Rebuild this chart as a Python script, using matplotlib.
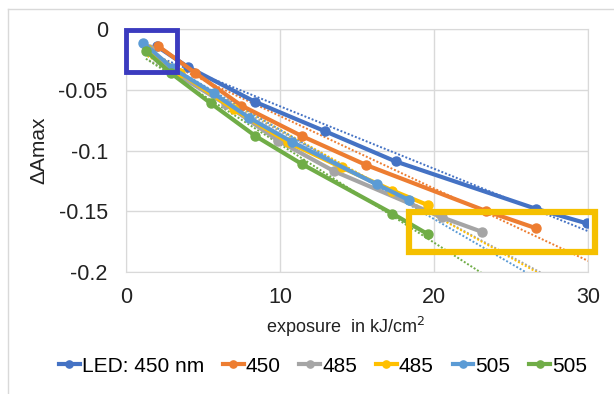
import numpy as np
import matplotlib.pyplot as plt
from matplotlib.patches import Rectangle
from matplotlib.lines import Line2D

plt.rcParams['font.family'] = ['Liberation Sans', 'DejaVu Sans']

# exposure (kJ/cm2) and dAmax for each LED series
labels = ["LED: 450 nm", "450", "485", "485", "505", "505"]
colors = ["#4472C4", "#ED7D31", "#A5A5A5", "#FFC000", "#5B9BD5", "#70AD47"]

x_blue = [2.0, 4.0, 8.4, 12.9, 17.5, 26.6, 29.9]
y_blue = [-0.014, -0.031, -0.060, -0.084, -0.109, -0.148, -0.160]

x_orange = [2.1, 4.5, 7.5, 11.4, 15.6, 23.4, 26.6]
y_orange = [-0.014, -0.036, -0.063, -0.088, -0.112, -0.150, -0.164]

x_gray = [1.5, 3.0, 6.5, 9.9, 13.5, 20.5, 23.1]
y_gray = [-0.016, -0.035, -0.062, -0.092, -0.117, -0.155, -0.167]

x_yellow = [1.4, 3.5, 7.0, 10.5, 14.0, 17.3, 19.6]
y_yellow = [-0.016, -0.036, -0.066, -0.093, -0.114, -0.133, -0.145]

x_lblue = [1.1, 3.0, 5.7, 8.0, 10.8, 16.3, 18.4]
y_lblue = [-0.011, -0.032, -0.053, -0.073, -0.093, -0.128, -0.141]

x_green = [1.3, 2.9, 5.5, 8.4, 11.4, 17.3, 19.6]
y_green = [-0.018, -0.036, -0.061, -0.088, -0.111, -0.152, -0.169]

xs = [x_blue, x_orange, x_gray, x_yellow, x_lblue, x_green]
ys = [y_blue, y_orange, y_gray, y_yellow, y_lblue, y_green]

fig = plt.figure(figsize=(6.14, 3.94), dpi=100)
ax = fig.add_axes([0.205, 0.310, 0.753, 0.616])

# linear trend lines (dotted), forecast to x=30
for x, y, c in zip(xs, ys, colors):
    k, b = np.polyfit(x, y, 1)
    xt = np.array([x[0], 30])
    ax.plot(xt, k * xt + b, ls=(0, (1, 1)), lw=1.4, color=c, zorder=2)

handles = []
for x, y, c, lab in zip(xs, ys, colors, labels):
    h, = ax.plot(x, y, '-o', color=c, lw=3, ms=6.5, label=lab, zorder=3)
    handles.append(h)

ax.set_xlim(0, 30)
ax.set_ylim(-0.2, 0)
ax.set_xticks([0, 10, 20, 30])
ax.set_yticks([0, -0.05, -0.1, -0.15, -0.2])
ax.set_yticklabels(["0", "-0.05", "-0.1", "-0.15", "-0.2"])
ax.grid(True, color="#D9D9D9", lw=1)
ax.set_axisbelow(True)
for s in ax.spines.values():
    s.set_color("#D9D9D9")
ax.tick_params(length=0, labelsize=15.5, colors="#222222")
ax.tick_params(axis='y', pad=13)
ax.tick_params(axis='x', pad=11)

ax.set_ylabel("ΔAmax", fontsize=15, color="#222222", labelpad=7)
fig.text(345 / 614, 1 - 327 / 394, "exposure  in kJ/cm$^2$", fontsize=13,
         ha='center', va='center', color="#222222")

# highlight boxes
ax.add_patch(Rectangle((0.0, -0.0355), 3.3, 0.0345, fill=False,
                       ec="#3B3BBF", lw=3.5, zorder=5, clip_on=False))
ax.add_patch(Rectangle((18.4, -0.184), 12.05, 0.033, fill=False,
                       ec="#F5C000", lw=4.5, zorder=5, clip_on=False))

fig.legend(handles=handles, loc='center', bbox_to_anchor=(323 / 614, 1 - 366 / 394),
           ncol=6, frameon=False, fontsize=15, handlelength=1.0,
           handletextpad=0.1, columnspacing=0.9, markerscale=0.8)

# outer chart frame
fig.add_artist(Line2D([8 / 614, 1], [1 - 9 / 394, 1 - 9 / 394], color="#D9D9D9", lw=1))
fig.add_artist(Line2D([8 / 614, 8 / 614], [0, 1 - 9 / 394], color="#D9D9D9", lw=1))

fig.savefig("out.png", dpi=100)
